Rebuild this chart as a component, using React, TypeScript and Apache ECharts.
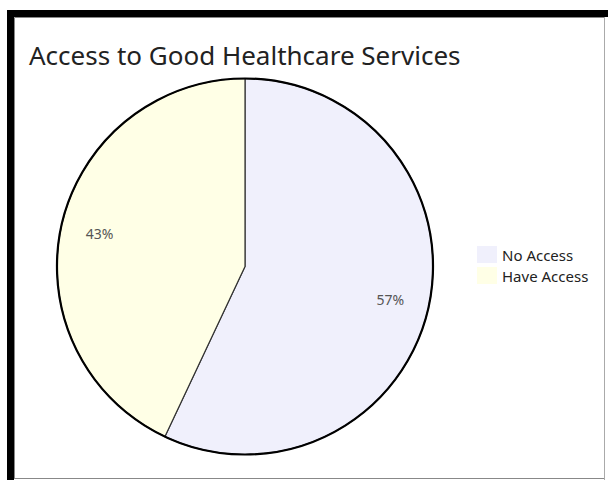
import React, { useEffect, useRef } from "react";
import * as echarts from "echarts";

const categories = ["No Access", "Have Access"];
const values = [57, 43];
const colors = ["#F0F0FC", "#FFFFE6"];
const titleText = "Access to Good Healthcare Services";

export default function App() {
  const ref = useRef<HTMLDivElement>(null);
  useEffect(() => {
    document.body.style.margin = "0";
    const chart = echarts.init(ref.current!, null, { renderer: "svg" });
    const data = categories.map((name, i) => ({
      name,
      value: values[i],
      itemStyle: { color: colors[i] },
    }));
    const total = values.reduce((a, b) => a + b, 0);
    const font = "'Noto Sans', 'DejaVu Sans', sans-serif";
    chart.setOption({
      animation: false,
      backgroundColor: "#ffffff",
      title: {
        text: titleText,
        left: 24,
        top: 37,
        textStyle: {
          fontFamily: font,
          fontSize: 26,
          fontWeight: "normal",
          color: "#222222",
        },
      },
      legend: {
        orient: "vertical",
        left: 472,
        top: 241,
        itemWidth: 20,
        itemHeight: 17,
        itemGap: 4,
        icon: "rect",
        selectedMode: false,
        data: categories,
        itemStyle: { borderWidth: 0 },
        textStyle: { fontFamily: font, fontSize: 15, color: "#222222" },
      },
      graphic: [
        { type: "rect", shape: { x: 7, y: 10, width: 601, height: 7 }, style: { fill: "#000" }, silent: true },
        { type: "rect", shape: { x: 7, y: 10, width: 7, height: 470 }, style: { fill: "#000" }, silent: true },
        { type: "line", shape: { x1: 14.5, y1: 17.5, x2: 604, y2: 17.5 }, style: { stroke: "#888", lineWidth: 1 }, silent: true },
        { type: "line", shape: { x1: 14.5, y1: 17.5, x2: 14.5, y2: 478 }, style: { stroke: "#888", lineWidth: 1 }, silent: true },
        { type: "line", shape: { x1: 604.5, y1: 17, x2: 604.5, y2: 480 }, style: { stroke: "#aaa", lineWidth: 1 }, silent: true },
        { type: "line", shape: { x1: 14, y1: 478.5, x2: 604, y2: 478.5 }, style: { stroke: "#888", lineWidth: 1 }, silent: true },
      ],
      series: [
        {
          type: "pie",
          center: [245, 266.5],
          radius: [0, 188],
          startAngle: 90,
          clockwise: true,
          silent: true,
          label: { show: false },
          labelLine: { show: false },
          itemStyle: { borderColor: "#333333", borderWidth: 1.2 },
          data,
        },
        {
          type: "pie",
          center: [245, 266.5],
          radius: [0, 188],
          silent: true,
          label: { show: false },
          labelLine: { show: false },
          legendHoverLink: false,
          itemStyle: { color: "rgba(0,0,0,0)", borderColor: "#000000", borderWidth: 2.2 },
          data: [{ name: "outline", value: total }],
        },
        {
          type: "pie",
          center: [245, 266.5],
          radius: [130, 162],
          startAngle: 90,
          clockwise: true,
          silent: true,
          itemStyle: { color: "rgba(0,0,0,0)", borderWidth: 0 },
          labelLine: { show: false },
          label: {
            show: true,
            position: "inside",
            formatter: "{c}%",
            fontFamily: font,
            fontSize: 14,
            color: "#555555",
          },
          data: categories.map((name, i) => ({ name, value: values[i] })),
        },
      ],
    });
    return () => chart.dispose();
  }, []);
  return <div ref={ref} style={{ width: 608, height: 480 }} />;
}
